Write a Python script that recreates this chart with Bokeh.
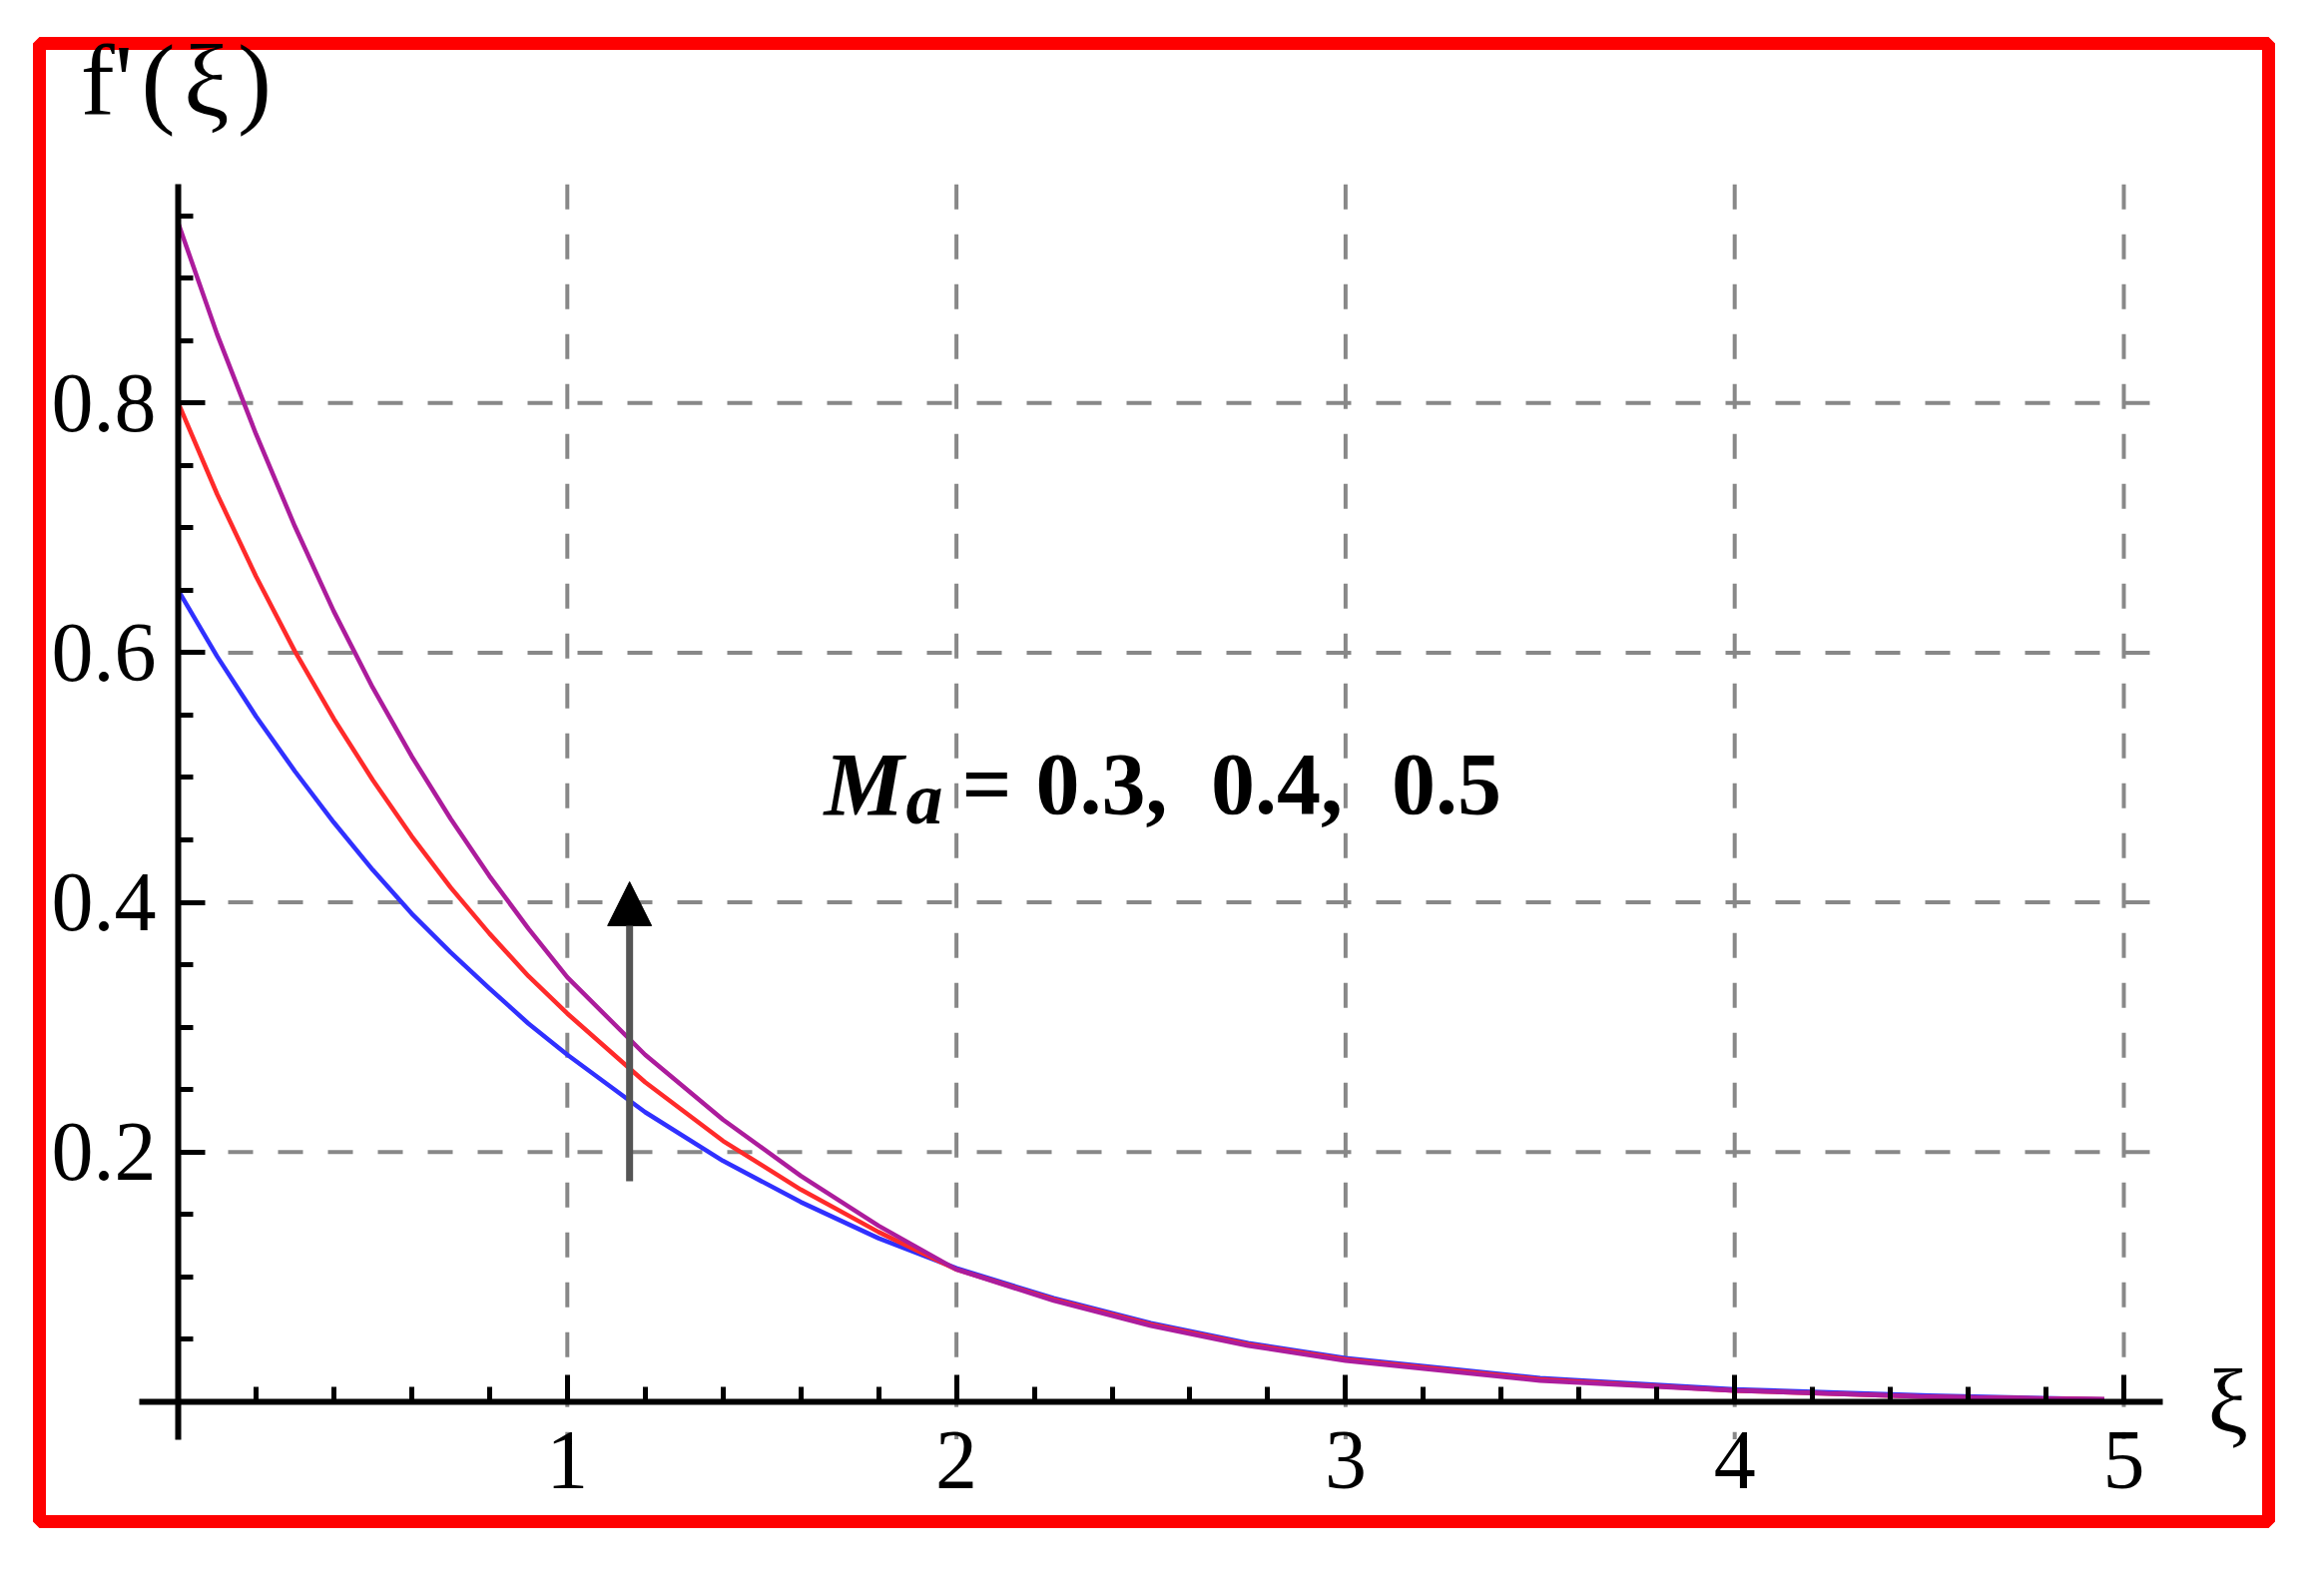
from bokeh.plotting import figure
from bokeh.models import Range1d, FixedTicker, Label, Arrow, NormalHead
from bokeh.embed import file_html
from bokeh.resources import INLINE

# ---- data ----
xi = [0, 0.1, 0.2, 0.3, 0.4, 0.5, 0.6, 0.7, 0.8, 0.9, 1.0, 1.2, 1.4, 1.6, 1.8,
      2.0, 2.25, 2.5, 2.75, 3.0, 3.5, 4.0, 4.5, 4.95]
f_blue = [0.650, 0.597, 0.549, 0.505, 0.464, 0.426, 0.391, 0.360, 0.331, 0.303,
          0.278, 0.232, 0.193, 0.160, 0.131, 0.107, 0.083, 0.063, 0.047, 0.035,
          0.019, 0.010, 0.005, 0.002]
f_red = [0.800, 0.727, 0.661, 0.601, 0.547, 0.498, 0.453, 0.412, 0.375, 0.341,
         0.311, 0.256, 0.209, 0.170, 0.136, 0.106, 0.082, 0.062, 0.046, 0.034,
         0.018, 0.009, 0.004, 0.002]
f_purple = [0.944, 0.855, 0.775, 0.701, 0.633, 0.572, 0.517, 0.467, 0.421, 0.379,
            0.340, 0.278, 0.226, 0.181, 0.141, 0.106, 0.081, 0.061, 0.045, 0.033,
            0.017, 0.009, 0.004, 0.002]

x_major = [1, 2, 3, 4, 5]
x_minor = [0.2, 0.4, 0.6, 0.8, 1.2, 1.4, 1.6, 1.8, 2.2, 2.4, 2.6, 2.8,
           3.2, 3.4, 3.6, 3.8, 4.2, 4.4, 4.6, 4.8]
y_major = [0.2, 0.4, 0.6, 0.8]
y_minor = [0.05, 0.1, 0.15, 0.25, 0.3, 0.35, 0.45, 0.5, 0.55, 0.65, 0.7, 0.75,
           0.85, 0.9, 0.95]
x_labels = {1: "1", 2: "2", 3: "3", 4: "4", 5: "5"}
y_labels = {0.2: "0.2", 0.4: "0.4", 0.6: "0.6", 0.8: "0.8"}

param_name = "M"
param_sub = "a"
param_values = ["0.3,", "0.4,", "0.5"]

# ---- layout constants ----
X_AXIS_BOUNDS = (-0.1, 5.1)
Y_AXIS_BOUNDS = (-0.03, 0.975)
FONT = "Liberation Serif"
VALUE_X = [2.204, 2.654, 3.118]
TEXT_Y = 0.4944

p = figure(width=2300, height=1560, output_backend="svg", toolbar_location=None,
           x_range=Range1d(-0.3566, 5.372), y_range=Range1d(-0.0959, 1.0879),
           min_border_left=39, min_border_right=28, min_border_top=43,
           min_border_bottom=36)
p.background_fill_color = "white"
p.border_fill_color = "white"
p.outline_line_color = "#ff0000"
p.outline_line_width = 13
p.grid.visible = False

# dashed grid lines
p.segment(x0=x_major, y0=[Y_AXIS_BOUNDS[1]] * len(x_major),
          x1=x_major, y1=[Y_AXIS_BOUNDS[0]] * len(x_major),
          line_color="#888888", line_width=4, line_dash="25 25")
p.segment(x0=[0] * len(y_major), y0=y_major,
          x1=[X_AXIS_BOUNDS[1]] * len(y_major), y1=y_major,
          line_color="#888888", line_width=4, line_dash="25 25")

# curves
p.line(xi, f_blue, line_color="#3030ff", line_width=4.5, line_join="round")
p.line(xi, f_red, line_color="#ff2a2a", line_width=4.5, line_join="round")
p.line(xi, f_purple, line_color="#ac1c9c", line_width=4.5, line_join="round")

# axes crossing at origin
for ax, bounds, major, minor, labels in (
        (p.xaxis[0], X_AXIS_BOUNDS, x_major, x_minor, x_labels),
        (p.yaxis[0], Y_AXIS_BOUNDS, y_major, y_minor, y_labels)):
    ax.fixed_location = 0
    ax.bounds = bounds
    ax.ticker = FixedTicker(ticks=major, minor_ticks=minor)
    ax.major_label_overrides = labels
    ax.axis_line_width = 6
    ax.axis_line_color = "black"
    ax.major_tick_line_width = 5
    ax.minor_tick_line_width = 5
    ax.major_tick_in = 27
    ax.major_tick_out = 0
    ax.minor_tick_in = 15
    ax.minor_tick_out = 0
    ax.major_label_text_font = FONT
    ax.major_label_text_font_size = "84px"
    ax.major_label_text_color = "black"
p.xaxis[0].major_label_standoff = 30
p.yaxis[0].major_label_standoff = 22

# axis titles
p.add_layout(Label(x=5.216, y=0.0, text="ξ", text_font=FONT, text_font_size="90px",
                   text_baseline="middle", text_align="left", text_color="black"))
p.add_layout(Label(x=-0.251, y=1.058, text="f'\u200a(\u200aξ\u200a)", text_font=FONT,
                   text_font_size="102px", text_baseline="middle",
                   text_align="left", text_color="black"))

# annotation M_a = 0.3, 0.4, 0.5
p.add_layout(Label(x=1.66, y=TEXT_Y, text=param_name, text_font=FONT,
                   text_font_size="90px", text_font_style="bold italic",
                   text_baseline="middle", text_color="black"))
p.add_layout(Label(x=1.87, y=0.4836, text=param_sub, text_font=FONT,
                   text_font_size="74px", text_font_style="bold italic",
                   text_baseline="middle", text_color="black"))
p.add_layout(Label(x=2.014, y=TEXT_Y, text="=", text_font=FONT,
                   text_font_size="88px", text_font_style="bold",
                   text_baseline="middle", text_color="black"))
for vx, vt in zip(VALUE_X, param_values):
    p.add_layout(Label(x=vx, y=TEXT_Y, text=vt, text_font=FONT,
                       text_font_size="88px", text_font_style="bold",
                       text_baseline="middle", text_color="black"))

# arrow
p.add_layout(Arrow(end=NormalHead(size=44, fill_color="black", line_color="black"),
                   x_start=1.16, y_start=0.1767, x_end=1.16, y_end=0.4165,
                   line_width=7, line_color="#555555"))

open("out.html", "w").write(file_html(p, INLINE))
